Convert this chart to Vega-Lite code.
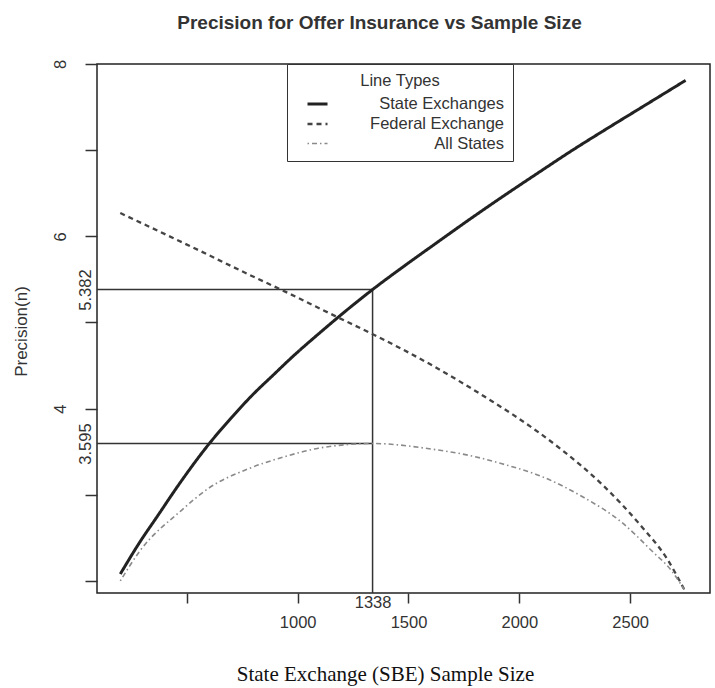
{
  "$schema": "https://vega.github.io/schema/vega-lite/v6.json",
  "width": 613,
  "height": 529,
  "autosize": {"type": "none"},
  "padding": {"left": 97, "top": 64, "right": 5, "bottom": 95},
  "background": "white",
  "config": {
    "font": "Liberation Sans",
    "view": {"stroke": "#222", "strokeWidth": 1.5},
    "legend": {
      "titleFontSize": 16.5,
      "titleFontWeight": "normal",
      "titleColor": "#333",
      "titleAnchor": "middle",
      "titleAlign": "center",
      "titlePadding": 3,
      "labelFontSize": 16.5,
      "labelColor": "#333",
      "strokeColor": "#333",
      "fillColor": "white",
      "padding": 9,
      "symbolType": "stroke",
      "symbolSize": 400,
      "symbolOffset": 10,
      "labelAlign": "right",
      "labelOffset": 175,
      "rowPadding": 0
    }
  },
  "title": {
    "text": "Precision for Offer Insurance vs Sample Size",
    "font": "Liberation Sans",
    "fontSize": 19,
    "fontWeight": "bold",
    "color": "#333",
    "anchor": "middle",
    "frame": "group",
    "dx": -24,
    "offset": 7,
    "baseline": "bottom"
  },
  "datasets": {
    "curves": [
      {"series": "State Exchanges", "n": 200, "p": 2.08},
      {"series": "State Exchanges", "n": 288, "p": 2.45},
      {"series": "State Exchanges", "n": 367, "p": 2.75},
      {"series": "State Exchanges", "n": 470, "p": 3.14},
      {"series": "State Exchanges", "n": 597, "p": 3.58},
      {"series": "State Exchanges", "n": 700, "p": 3.89},
      {"series": "State Exchanges", "n": 793, "p": 4.15},
      {"series": "State Exchanges", "n": 890, "p": 4.39},
      {"series": "State Exchanges", "n": 976, "p": 4.6},
      {"series": "State Exchanges", "n": 1100, "p": 4.88},
      {"series": "State Exchanges", "n": 1220, "p": 5.14},
      {"series": "State Exchanges", "n": 1338, "p": 5.382},
      {"series": "State Exchanges", "n": 1478, "p": 5.65},
      {"series": "State Exchanges", "n": 1630, "p": 5.93},
      {"series": "State Exchanges", "n": 1783, "p": 6.21},
      {"series": "State Exchanges", "n": 1930, "p": 6.47},
      {"series": "State Exchanges", "n": 2084, "p": 6.735},
      {"series": "State Exchanges", "n": 2240, "p": 7.0},
      {"series": "State Exchanges", "n": 2389, "p": 7.24},
      {"series": "State Exchanges", "n": 2560, "p": 7.51},
      {"series": "State Exchanges", "n": 2750, "p": 7.81},
      {"series": "Federal Exchange", "n": 200, "p": 6.27},
      {"series": "Federal Exchange", "n": 528, "p": 5.87},
      {"series": "Federal Exchange", "n": 785, "p": 5.55},
      {"series": "Federal Exchange", "n": 934, "p": 5.37},
      {"series": "Federal Exchange", "n": 1181, "p": 5.06},
      {"series": "Federal Exchange", "n": 1326, "p": 4.88},
      {"series": "Federal Exchange", "n": 1608, "p": 4.5},
      {"series": "Federal Exchange", "n": 1880, "p": 4.08},
      {"series": "Federal Exchange", "n": 1971, "p": 3.93},
      {"series": "Federal Exchange", "n": 2192, "p": 3.52},
      {"series": "Federal Exchange", "n": 2373, "p": 3.12},
      {"series": "Federal Exchange", "n": 2552, "p": 2.63},
      {"series": "Federal Exchange", "n": 2663, "p": 2.27},
      {"series": "Federal Exchange", "n": 2744, "p": 1.9},
      {"series": "All States", "n": 200, "p": 2.0},
      {"series": "All States", "n": 289, "p": 2.35},
      {"series": "All States", "n": 472, "p": 2.81},
      {"series": "All States", "n": 595, "p": 3.07},
      {"series": "All States", "n": 776, "p": 3.3},
      {"series": "All States", "n": 939, "p": 3.44},
      {"series": "All States", "n": 1093, "p": 3.54},
      {"series": "All States", "n": 1338, "p": 3.595},
      {"series": "All States", "n": 1606, "p": 3.53},
      {"series": "All States", "n": 1786, "p": 3.45},
      {"series": "All States", "n": 1922, "p": 3.36},
      {"series": "All States", "n": 2103, "p": 3.21},
      {"series": "All States", "n": 2283, "p": 2.98},
      {"series": "All States", "n": 2462, "p": 2.68},
      {"series": "All States", "n": 2597, "p": 2.35},
      {"series": "All States", "n": 2686, "p": 2.12},
      {"series": "All States", "n": 2744, "p": 1.9}
    ],
    "refs": [
      {"n": 0, "n2": 1338, "p": 5.382, "p2": 5.382},
      {"n": 0, "n2": 1338, "p": 3.595, "p2": 3.595},
      {"n": 1338, "n2": 1338, "p": 0, "p2": 5.382}
    ]
  },
  "encoding": {
    "x": {
      "field": "n",
      "type": "quantitative",
      "scale": {"domain": [95, 2860], "nice": false, "zero": false},
      "axis": {
        "title": "State Exchange (SBE) Sample Size",
        "titleFont": "Liberation Serif",
        "titleFontSize": 21,
        "titleFontWeight": "normal",
        "titleColor": "#111",
        "titleX": 288,
        "titleY": 87,
        "titleAlign": "center",
        "titleBaseline": "alphabetic",
        "values": [500, 1000, 1338, 1500, 2000, 2500],
        "format": "d",
        "labelExpr": "datum.value == 500 ? '' : datum.label",
        "labelFontSize": 16.5,
        "labelColor": "#333",
        "labelFlush": false,
        "labelOverlap": false,
        "domain": false,
        "grid": false,
        "tickColor": "#333",
        "tickWidth": 1.5,
        "tickSize": {"condition": {"test": "datum.value == 1338", "value": 0}, "value": 10},
        "labelPadding": {"condition": {"test": "datum.value == 1338", "value": 1}, "value": 11}
      }
    },
    "y": {
      "field": "p",
      "type": "quantitative",
      "scale": {"domain": [1.86, 8.0], "nice": false, "zero": false},
      "axis": {
        "title": "Precision(n)",
        "titleFontSize": 17,
        "titleFontWeight": "normal",
        "titleColor": "#333",
        "titleAngle": 270,
        "titleX": -76,
        "titleY": 267,
        "titleAlign": "center",
        "titleBaseline": "middle",
        "values": [2, 3, 3.595, 4, 5, 5.382, 6, 7, 8],
        "labelExpr": "datum.value == 8 ? '8' : datum.value == 6 ? '6' : datum.value == 4 ? '4' : datum.value == 5.382 ? '5.382' : datum.value == 3.595 ? '3.595' : ''",
        "labelAngle": 270,
        "labelAlign": "center",
        "labelBaseline": "alphabetic",
        "labelFontSize": 16.5,
        "labelColor": "#333",
        "labelFlush": false,
        "labelOverlap": false,
        "domain": false,
        "grid": false,
        "tickColor": "#333",
        "tickWidth": 1.5,
        "tickSize": {"condition": {"test": "datum.value == 5.382 || datum.value == 3.595", "value": 0}, "value": 12},
        "labelPadding": {"condition": {"test": "datum.value == 5.382 || datum.value == 3.595", "value": 7}, "value": 20}
      }
    }
  },
  "layer": [
    {
      "data": {"name": "refs"},
      "mark": {"type": "rule", "clip": true, "color": "#333", "strokeWidth": 1.5},
      "encoding": {
        "x2": {"field": "n2"},
        "y2": {"field": "p2"}
      }
    },
    {
      "data": {"name": "curves"},
      "mark": {"type": "line", "clip": true, "interpolate": "monotone"},
      "encoding": {
        "color": {
          "field": "series",
          "type": "nominal",
          "title": "Line Types",
          "scale": {"domain": ["State Exchanges", "Federal Exchange", "All States"], "range": ["#222", "#444", "#8a8a8a"]},
          "legend": {"orient": "none", "legendX": 190, "legendY": 0, "title": "Line Types"}
        },
        "strokeDash": {
          "field": "series",
          "type": "nominal",
          "title": "Line Types",
          "scale": {"domain": ["State Exchanges", "Federal Exchange", "All States"], "range": [[1, 0], [5, 4], [1.5, 3, 5, 3]]}
        },
        "strokeWidth": {
          "field": "series",
          "type": "nominal",
          "title": "Line Types",
          "scale": {"domain": ["State Exchanges", "Federal Exchange", "All States"], "range": [3, 1.6, 1.4]}
        },
        "order": {"field": "n", "type": "quantitative"}
      }
    }
  ]
}
